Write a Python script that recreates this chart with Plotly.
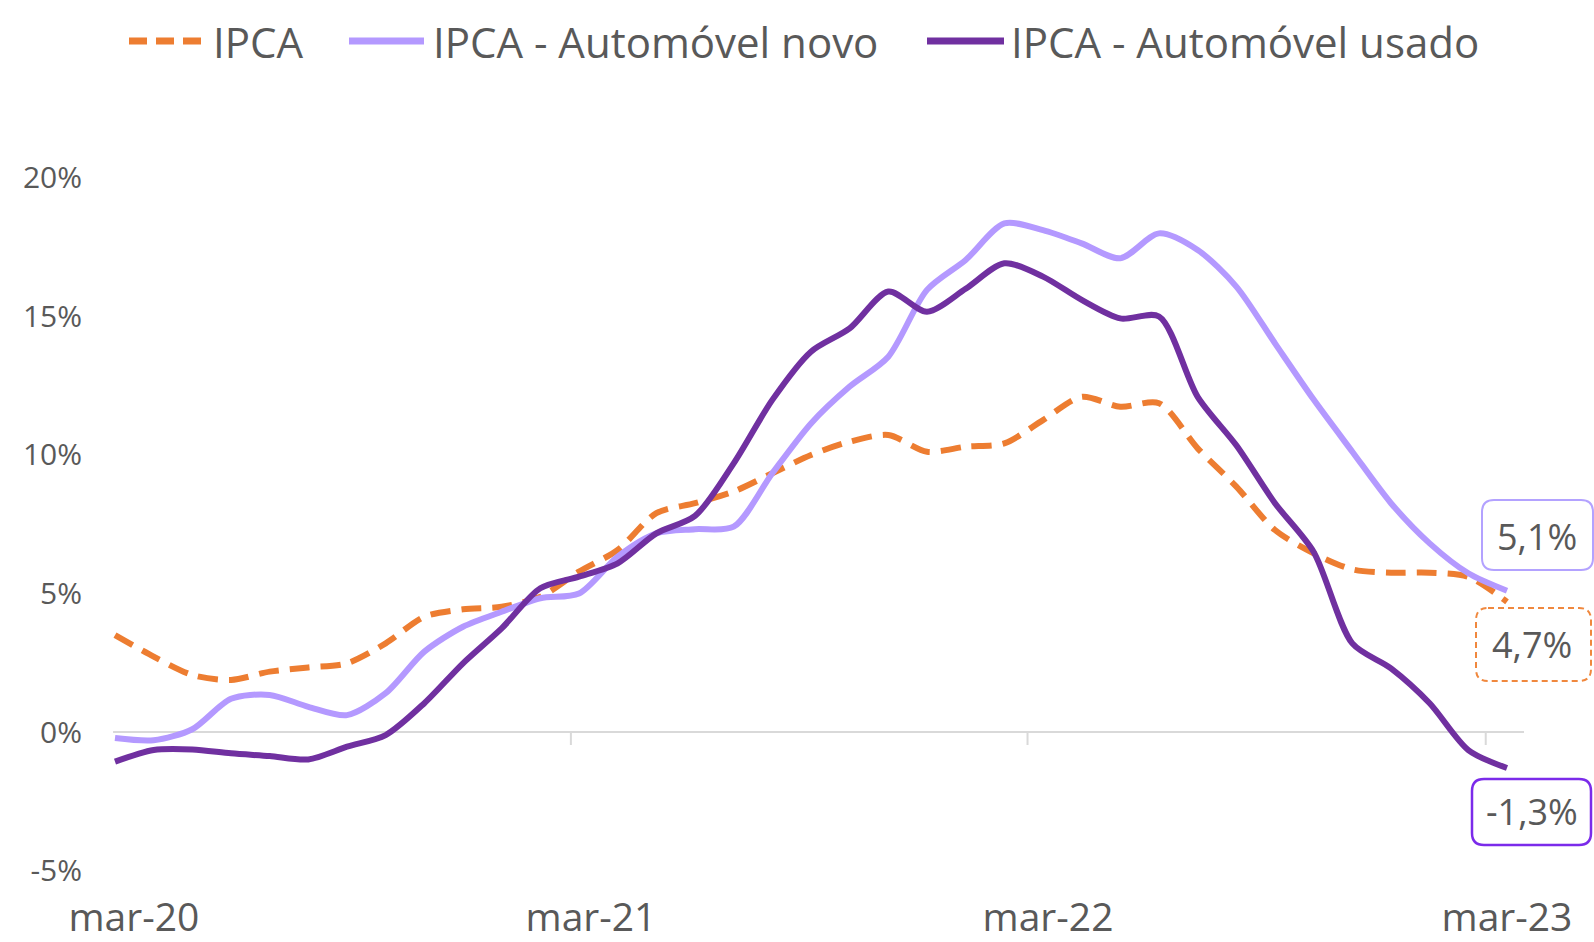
import plotly.graph_objects as go

# ---------------- data (12-month variation, %) ----------------
months = ["mar-20", "abr-20", "mai-20", "jun-20", "jul-20", "ago-20", "set-20", "out-20",
          "nov-20", "dez-20", "jan-21", "fev-21", "mar-21", "abr-21", "mai-21", "jun-21",
          "jul-21", "ago-21", "set-21", "out-21", "nov-21", "dez-21", "jan-22", "fev-22",
          "mar-22", "abr-22", "mai-22", "jun-22", "jul-22", "ago-22", "set-22", "out-22",
          "nov-22", "dez-22", "jan-23", "fev-23", "mar-23"]

ipca = [3.5, 2.72, 2.06, 1.88, 2.18, 2.33, 2.48, 3.2, 4.16, 4.43, 4.52, 4.88, 5.79,
        6.57, 7.9, 8.26, 8.68, 9.34, 10.0, 10.48, 10.72, 10.12, 10.3, 10.42, 11.26,
        12.1, 11.74, 11.87, 10.24, 8.86, 7.29, 6.45, 5.87, 5.75, 5.75, 5.6, 4.7]

auto_novo = [-0.22, -0.3, 0.1, 1.2, 1.34, 0.91, 0.61, 1.4, 2.9, 3.8, 4.34, 4.83,
             5.0, 6.33, 7.17, 7.32, 7.41, 9.34, 11.14, 12.47, 13.55, 15.96, 17.04,
             18.36, 18.12, 17.64, 17.1, 18.0, 17.4, 16.08, 14.03, 12.0, 10.12, 8.26,
             6.81, 5.73, 5.1]

auto_usado = [-1.07, -0.65, -0.63, -0.77, -0.87, -0.99, -0.53, -0.11, 1.04, 2.48,
              3.74, 5.19, 5.61, 6.09, 7.17, 7.8, 9.7, 11.99, 13.73, 14.57, 15.9,
              15.17, 16.0, 16.92, 16.44, 15.6, 14.93, 15.0, 12.1, 10.35, 8.26, 6.5,
              3.2, 2.3, 1.04, -0.65, -1.3]

series_names = ["IPCA", "IPCA - Automóvel novo", "IPCA - Automóvel usado"]
xtick_labels = ["mar-20", "mar-21", "mar-22", "mar-23"]
ytick_values = [-5, 0, 5, 10, 15, 20]
ytick_labels = ["-5%", "0%", "5%", "10%", "15%", "20%"]

# ---------------- style ----------------
C_IPCA = "#ED7D31"
C_NOVO = "#B499FF"
C_USADO = "#7030A0"
TXT = "#595959"
FONT = "Open Sans"

W, H = 1594, 942
L, R, T, B = 100, 70, 150, 47


def pxx(x):
    return (x - L) / (W - L - R)


def pxy(y):
    return (H - B - y) / (H - T - B)


def rrect(x0, y0, x1, y1, r):
    rx = r / (W - L - R)
    ry = r / (H - T - B)
    a0, a1 = pxx(x0), pxx(x1)
    b0, b1 = pxy(y0), pxy(y1)  # b0 top (larger), b1 bottom
    return (f"M{a0+rx},{b0} L{a1-rx},{b0} Q{a1},{b0} {a1},{b0-ry} "
            f"L{a1},{b1+ry} Q{a1},{b1} {a1-rx},{b1} L{a0+rx},{b1} "
            f"Q{a0},{b1} {a0},{b1+ry} L{a0},{b0-ry} Q{a0},{b0} {a0+rx},{b0} Z")


x = list(range(len(months)))

fig = go.Figure()
fig.add_trace(go.Scatter(x=x, y=ipca, name=series_names[0], mode="lines",
                         line=dict(color=C_IPCA, width=6, dash="20px,11px", shape="spline", smoothing=0.8),
                         text=months, showlegend=False))
fig.add_trace(go.Scatter(x=x, y=auto_novo, name=series_names[1], mode="lines",
                         line=dict(color=C_NOVO, width=6, shape="spline", smoothing=0.8),
                         text=months, showlegend=False))
fig.add_trace(go.Scatter(x=x, y=auto_usado, name=series_names[2], mode="lines",
                         line=dict(color=C_USADO, width=6, shape="spline", smoothing=0.8),
                         text=months, showlegend=False))

shapes = []
# zero line and small ticks
shapes.append(dict(type="line", xref="x", yref="y", x0=-0.05, x1=36.44, y0=0, y1=0,
                   line=dict(color="#D9D9D9", width=2), layer="below"))
for tx in [11.79, 23.6, 35.45]:
    shapes.append(dict(type="line", xref="x", yref="y", x0=tx, x1=tx, y0=0, y1=-0.47,
                       line=dict(color="#D9D9D9", width=2), layer="below"))

# manual legend
leg_y = 41
legend_items = [
    (129, 208, 211, C_IPCA, "dash"),
    (349, 424, 431, C_NOVO, "solid"),
    (927, 1004, 1009, C_USADO, "solid"),
]
annotations = []
for (lx0, lx1, tx, col, dsh), name in zip(legend_items, series_names):
    shapes.append(dict(type="line", xref="paper", yref="paper",
                       x0=pxx(lx0), x1=pxx(lx1), y0=pxy(leg_y), y1=pxy(leg_y),
                       line=dict(color=col, width=7, dash="18px,9px" if dsh == "dash" else "solid")))
    annotations.append(dict(xref="paper", yref="paper", x=pxx(tx), y=pxy(leg_y + 1),
                            xanchor="left", yanchor="middle", showarrow=False, text=name,
                            font=dict(family=FONT, size=42, color=TXT)))

# end-value label boxes
boxes = [
    (auto_novo[-1], (1482, 500, 1593, 570), (1537, 536), "#B3A2FF", "solid", 2),
    (ipca[-1], (1476, 608, 1591, 681), (1532, 644), "#F0883E", "dash", 2),
    (auto_usado[-1], (1472, 779, 1591, 845), (1532, 811), "#7B2BEA", "solid", 2.5),
]
for val, (bx0, by0, bx1, by1), (cx, cy), bc, bd, bw in boxes:
    shapes.append(dict(type="path", xref="paper", yref="paper",
                       path=rrect(bx0, by0, bx1, by1, 12),
                       line=dict(color=bc, width=bw, dash="6px,4px" if bd == "dash" else "solid"),
                       fillcolor="rgba(255,255,255,0)"))
    label = f"{val:.1f}".replace(".", ",") + "%"
    annotations.append(dict(xref="paper", yref="paper", x=pxx(cx), y=pxy(cy),
                            xanchor="center", yanchor="middle", showarrow=False, text=label,
                            font=dict(family=FONT, size=36, color=TXT)))

fig.update_layout(
    width=W, height=H,
    margin=dict(l=L, r=R, t=T, b=B, pad=0, autoexpand=False),
    paper_bgcolor="white", plot_bgcolor="white",
    font=dict(family=FONT, color=TXT),
    showlegend=False,
    shapes=shapes,
    annotations=annotations,
    xaxis=dict(range=[-0.388, 36.44], showgrid=False, zeroline=False, showline=False,
               automargin=False,
               tickmode="array", tickvals=[0.49, 12.31, 24.13, 36], ticktext=xtick_labels,
               ticks="", ticklabelstandoff=-4, tickfont=dict(family=FONT, size=39, color=TXT)),
    yaxis=dict(range=[-5.884, 21.01], showgrid=False, zeroline=False, showline=False,
               automargin=False,
               tickmode="array", tickvals=ytick_values, ticktext=ytick_labels,
               ticks="", ticklabelstandoff=17, tickfont=dict(family=FONT, size=30, color=TXT)),
)

fig.write_html("out.html", config={"displayModeBar": False},
               post_script="document.body.style.margin='0';")
